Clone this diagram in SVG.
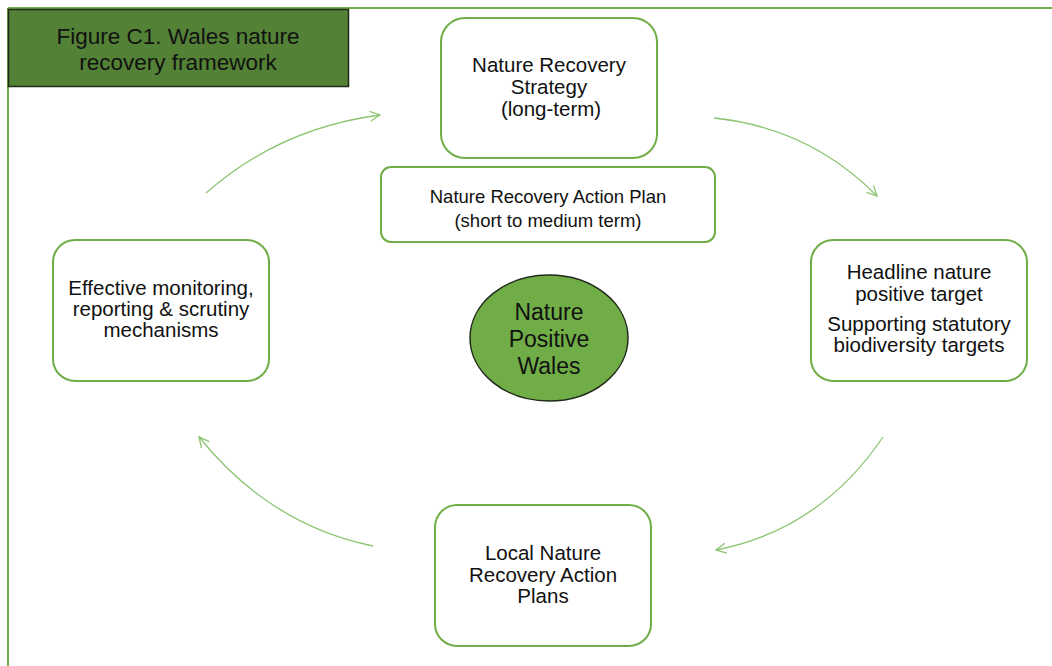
<svg xmlns="http://www.w3.org/2000/svg" width="1052" height="666" viewBox="0 0 1052 666">
<defs>
<style>
text{font-family:"Liberation Sans",Arial,sans-serif;fill:#111;text-anchor:middle}
.box{fill:#fff;stroke:#70ad47;stroke-width:2}
.conn{fill:none;stroke:#8cc572;stroke-width:1.3}
.t18{font-size:20.5px}
.t16{font-size:18.5px}
.t20{font-size:22.5px}
.t23{font-size:23px}
</style>
<marker id="ah" viewBox="0 0 12 12" refX="11" refY="6" markerWidth="12" markerHeight="12" markerUnits="userSpaceOnUse" orient="auto">
<path d="M1,1 L11,6 L1,11" fill="none" stroke="#8cc572" stroke-width="1.3"/>
</marker>
</defs>
<rect width="1052" height="666" fill="#fff"/>
<g id="frame">
<line x1="8" y1="8" x2="1052" y2="8" stroke="#70ad47" stroke-width="2"/>
<line x1="8" y1="8" x2="8" y2="666" stroke="#70ad47" stroke-width="2"/>
</g>
<g id="title">
<rect x="8.5" y="9.5" width="340" height="77" fill="#538135" stroke="#1f2a1a" stroke-width="1.5"/>
<text class="t20" x="178" y="44">Figure C1. Wales nature</text>
<text class="t20" x="178" y="70">recovery  framework</text>
</g>
<g id="connectors">
<path class="conn" d="M206,193 Q280,128 380,115" marker-end="url(#ah)"/>
<path class="conn" d="M714,118 Q810,128 877,196" marker-end="url(#ah)"/>
<path class="conn" d="M883,437 Q820,530 716,550" marker-end="url(#ah)"/>
<path class="conn" d="M373,546 Q270,525 199,437" marker-end="url(#ah)"/>
</g>
<g id="nrs">
<rect class="box" x="441" y="18" width="216" height="140" rx="24"/>
<text class="t18" x="549" y="72">Nature Recovery</text>
<text class="t18" x="549" y="94">Strategy</text>
<text class="t18" x="551" y="116">(long-term)</text>
</g>
<g id="nrap">
<rect class="box" x="381" y="167" width="334" height="75" rx="10"/>
<text class="t16" x="548" y="203">Nature Recovery Action Plan</text>
<text class="t16" x="548" y="227">(short to medium  term)</text>
</g>
<g id="headline">
<rect class="box" x="811" y="240" width="216" height="141" rx="22"/>
<text class="t18" x="919" y="279">Headline nature</text>
<text class="t18" x="919" y="301">positive target</text>
<text class="t18" x="919" y="331">Supporting  statutory</text>
<text class="t18" x="919" y="352">biodiversity targets</text>
</g>
<g id="monitoring">
<rect class="box" x="53" y="240" width="216" height="141" rx="22"/>
<text class="t18" x="161" y="295">Effective monitoring,</text>
<text class="t18" x="161" y="316">reporting &amp; scrutiny</text>
<text class="t18" x="161" y="337">mechanisms</text>
</g>
<g id="local">
<rect class="box" x="435" y="505" width="216" height="141" rx="22"/>
<text class="t18" x="543" y="560">Local Nature</text>
<text class="t18" x="543" y="582">Recovery Action</text>
<text class="t18" x="543" y="603">Plans</text>
</g>
<g id="center">
<ellipse cx="549" cy="338" rx="79" ry="63" fill="#70ad47" stroke="#1f2a1a" stroke-width="1.5"/>
<text class="t23" x="549" y="320">Nature</text>
<text class="t23" x="549" y="347">Positive</text>
<text class="t23" x="549" y="374">Wales</text>
</g>
</svg>
